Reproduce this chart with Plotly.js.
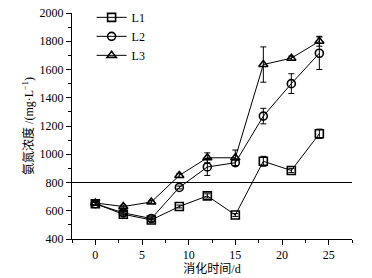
<!DOCTYPE html>
<html><head><meta charset="utf-8">
<script src="https://cdn.plot.ly/plotly-3.0.1.min.js"></script>
<style>html,body{margin:0;padding:0;background:#fff}#c{width:372px;height:278px}</style>
</head><body><div id="c"></div>
<script>
const days = [0, 3, 6, 9, 12, 15, 18, 21, 24];
const L1 = [650, 575, 535, 630, 705, 570, 950, 885, 1145];
const L1err = [10, 10, 10, 10, 15, 10, 35, 15, 33];
const L2 = [650, 585, 545, 765, 910, 940, 1270, 1500, 1715];
const L2err = [10, 10, 10, 10, 60, 20, 55, 70, 115];
const L3 = [655, 630, 662, 850, 975, 975, 1635, 1680, 1800];
const L3err = [10, 10, 10, 15, 35, 55, 125, 15, 35];
const names = ['L1', 'L2', 'L3'];
const symbols = ['square-open', 'circle-open', 'triangle-up-open'];
const refLevel = 800;

const F = 'Liberation Serif, Times New Roman, Noto Sans CJK SC, serif';
const series = [[L1, L1err], [L2, L2err], [L3, L3err]];
const traces = series.map((s, i) => ({
  x: days, y: s[0], name: names[i], type: 'scatter', mode: 'lines+markers',
  line: {color: '#000', width: 1},
  marker: {symbol: symbols[i], size: 8, color: '#000', line: {width: 1.6, color: '#000'}},
  error_y: {type: 'data', array: s[1], visible: true, color: '#000', thickness: 1, width: 3}
}));

const layout = {
  width: 372, height: 278,
  margin: {l: 72, r: 20, t: 13, b: 39, autoexpand: false},
  paper_bgcolor: '#fff', plot_bgcolor: '#fff',
  font: {family: F, size: 12, color: '#000'},
  showlegend: true,
  legend: {x: 0.07, y: 1.045, xanchor: 'left', yanchor: 'top', bgcolor: 'rgba(0,0,0,0)',
           font: {family: F, size: 12}, itemwidth: 30, tracegroupgap: 0},
  xaxis: {range: [-2.5, 27.5], tickvals: [0, 5, 10, 15, 20, 25], ticks: 'outside', ticklen: 5,
          tickwidth: 1, tickcolor: '#000', showline: true, linecolor: '#000', linewidth: 1,
          showgrid: false, zeroline: false, automargin: false,
          minor: {tickvals: [-2.5, 2.5, 7.5, 12.5, 17.5, 22.5, 27.5], ticks: 'outside', ticklen: 3, tickcolor: '#000', showgrid: false},
          title: {text: '消化时间/d', font: {family: F, size: 12}, standoff: 2}},
  yaxis: {range: [400, 2000], dtick: 200, ticks: 'outside', ticklen: 5, tickwidth: 1, tickcolor: '#000',
          showline: true, linecolor: '#000', linewidth: 1, showgrid: false, zeroline: false, automargin: false,
          minor: {dtick: 100, ticks: 'outside', ticklen: 3, tickcolor: '#000', showgrid: false},
          title: {text: '氨氮浓度 /(mg·L<sup>−1</sup>)', font: {family: F, size: 12}, standoff: 3}},
  shapes: [{type: 'line', xref: 'paper', x0: 0, x1: 1, yref: 'y', y0: refLevel, y1: refLevel,
            line: {color: '#000', width: 1}}]
};
Plotly.newPlot('c', traces, layout, {staticPlot: true, displayModeBar: false});
</script></body></html>
